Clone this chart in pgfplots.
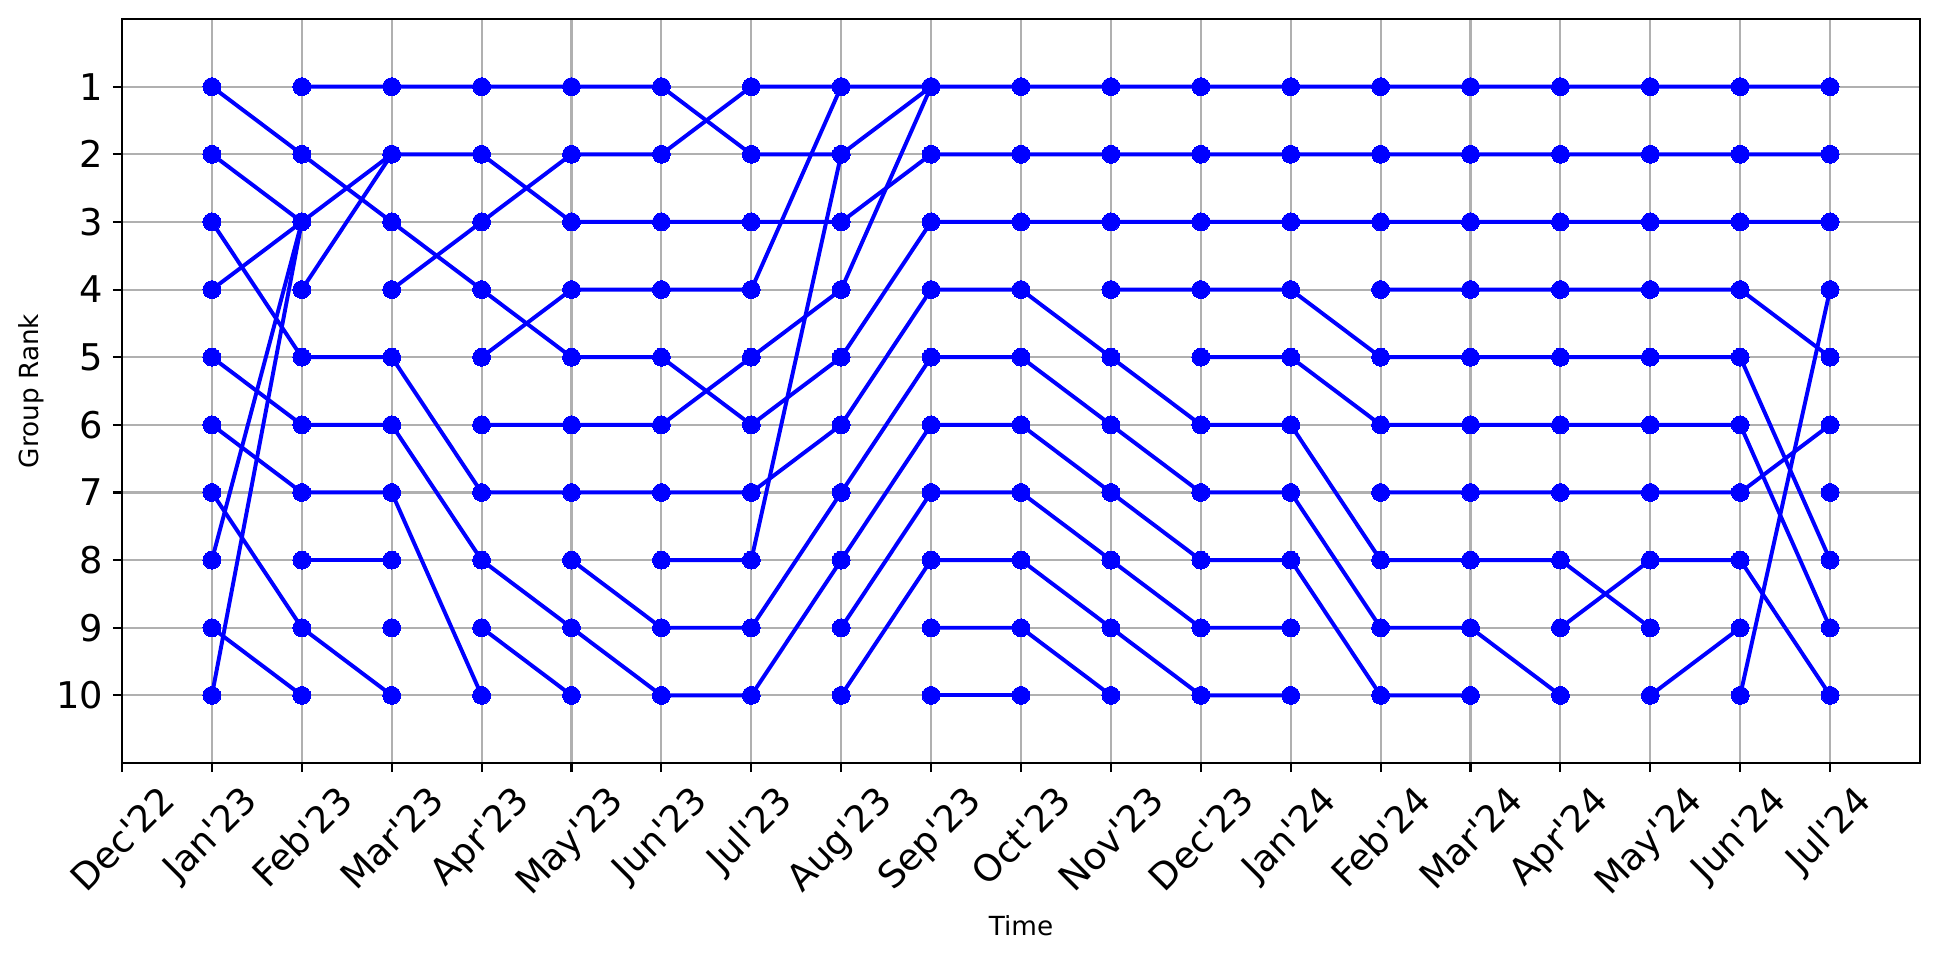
\documentclass[border=0pt]{standalone}
\usepackage{fontspec}
\setmainfont{DejaVu Sans}
\usepackage{graphicx}
\usepackage{pgfplots}
\pgfplotsset{compat=1.18}

\newcommand{\rl}[1]{\rotatebox{45}{#1}}
\newcommand{\q}{\textquotesingle}

\begin{document}
\begin{tikzpicture}
\begin{axis}[
    scale only axis,
    width=9.4632in, height=3.9158in,
    xmin=0, xmax=20,
    ymin=0, ymax=11,
    y dir=reverse,
    xtick={0,...,19},
    ytick={1,...,10},
    xticklabels={\rl{Dec\q22},\rl{Jan\q23},\rl{Feb\q23},\rl{Mar\q23},\rl{Apr\q23},
        \rl{May\q23},\rl{Jun\q23},\rl{Jul\q23},\rl{Aug\q23},\rl{Sep\q23},\rl{Oct\q23},
        \rl{Nov\q23},\rl{Dec\q23},\rl{Jan\q24},\rl{Feb\q24},\rl{Mar\q24},\rl{Apr\q24},
        \rl{May\q24},\rl{Jun\q24},\rl{Jul\q24}},
    xticklabel style={anchor=north, inner sep=0pt, yshift=-4pt},
    yticklabel style={inner sep=0pt, xshift=-3.5pt},
    ticklabel style={font=\fontsize{14}{16}\selectfont},
    /pgf/number format/assume math mode=true,
    tick pos=left,
    tick align=outside,
    major tick length=3.5pt,
    tick style={black, line width=0.8pt},
    axis line style={line width=0.8pt},
    grid=major,
    major grid style={color=black!31, line width=0.8pt},
    xlabel={Time},
    ylabel={Group Rank},
    label style={font=\fontsize{10}{12}\selectfont},
    xlabel style={at={(axis description cs:0.5,-0.2312)}, anchor=base},
    ylabel style={at={(axis description cs:-0.0506,0.5)}, anchor=center},
    bump/.style={blue, line width=1.5pt, mark=*, mark size=3.4pt,
        mark options={solid, fill=blue, draw=blue, line width=0pt}},
]
% chains of connected ranks, month index 1 = Jan'23
\addplot[bump] coordinates {(1,1)(2,2)(3,3)(4,4)(5,5)(6,5)(7,6)(8,5)(9,3)(10,3)(11,3)(12,3)(13,3)(14,3)(15,3)(16,3)(17,3)(18,3)(19,3)};
\addplot[bump] coordinates {(1,2)(2,3)(3,2)(4,2)(5,3)(6,3)(7,3)(8,3)(9,2)(10,2)(11,2)(12,2)(13,2)(14,2)(15,2)(16,2)(17,2)(18,2)(19,2)};
\addplot[bump] coordinates {(1,3)(2,5)(3,5)(4,7)(5,7)(6,7)(7,7)(8,6)(9,4)(10,4)(11,5)(12,6)(13,6)(14,8)(15,8)(16,8)(17,9)};
\addplot[bump] coordinates {(1,4)(2,3)};
\addplot[bump] coordinates {(1,5)(2,6)(3,6)(4,8)(5,9)(6,10)(7,10)(8,8)(9,6)(10,6)(11,7)(12,8)(13,8)(14,10)(15,10)};
\addplot[bump] coordinates {(1,6)(2,7)(3,7)(4,10)};
\addplot[bump] coordinates {(1,7)(2,9)(3,10)};
\addplot[bump] coordinates {(1,8)(2,3)};
\addplot[bump] coordinates {(1,9)(2,10)};
\addplot[bump] coordinates {(1,10)(2,3)};
\addplot[bump] coordinates {(2,1)(3,1)(4,1)(5,1)(6,1)(7,2)(8,2)(9,1)(10,1)(11,1)(12,1)(13,1)(14,1)(15,1)(16,1)(17,1)(18,1)(19,1)};
\addplot[bump] coordinates {(2,4)(3,2)};
\addplot[bump] coordinates {(2,8)(3,8)};
\addplot[bump] coordinates {(3,4)(4,3)(5,2)(6,2)(7,1)(8,1)(9,1)};
\addplot[bump] coordinates {(4,5)(5,4)(6,4)(7,4)(8,1)};
\addplot[bump] coordinates {(4,6)(5,6)(6,6)(7,5)(8,4)(9,1)};
\addplot[bump] coordinates {(4,9)(5,10)};
\addplot[bump] coordinates {(5,8)(6,9)(7,9)(8,7)(9,5)(10,5)(11,6)(12,7)(13,7)(14,9)(15,9)(16,10)};
\addplot[bump] coordinates {(6,8)(7,8)(8,2)};
\addplot[bump] coordinates {(8,9)(9,7)(10,7)(11,8)(12,9)(13,9)};
\addplot[bump] coordinates {(8,10)(9,8)(10,8)(11,9)(12,10)(13,10)};
\addplot[bump] coordinates {(9,9)(10,9)(11,10)};
\addplot[bump] coordinates {(9,10)(10,10)};
\addplot[bump] coordinates {(11,4)(12,4)(13,4)(14,5)(15,5)(16,5)(17,5)(18,5)(19,8)};
\addplot[bump] coordinates {(12,5)(13,5)(14,6)(15,6)(16,6)(17,6)(18,6)(19,9)};
\addplot[bump] coordinates {(14,4)(15,4)(16,4)(17,4)(18,4)(19,5)};
\addplot[bump] coordinates {(14,7)(15,7)(16,7)(17,7)(18,7)(19,6)};
\addplot[bump] coordinates {(16,9)(17,8)(18,8)(19,10)};
\addplot[bump] coordinates {(17,10)(18,9)};
\addplot[bump] coordinates {(18,10)(19,4)};
\addplot[bump, only marks] coordinates {(3,9)(19,7)};
\coordinate (sw) at (rel axis cs:0,0);
\coordinate (ne) at (rel axis cs:1,1);
\end{axis}
\pgfresetboundingbox
\path[use as bounding box] ([shift={(-0.6421in,-1.0368in)}]sw) rectangle ([shift={(0.1in,0.1in)}]ne);
\end{tikzpicture}
\end{document}
